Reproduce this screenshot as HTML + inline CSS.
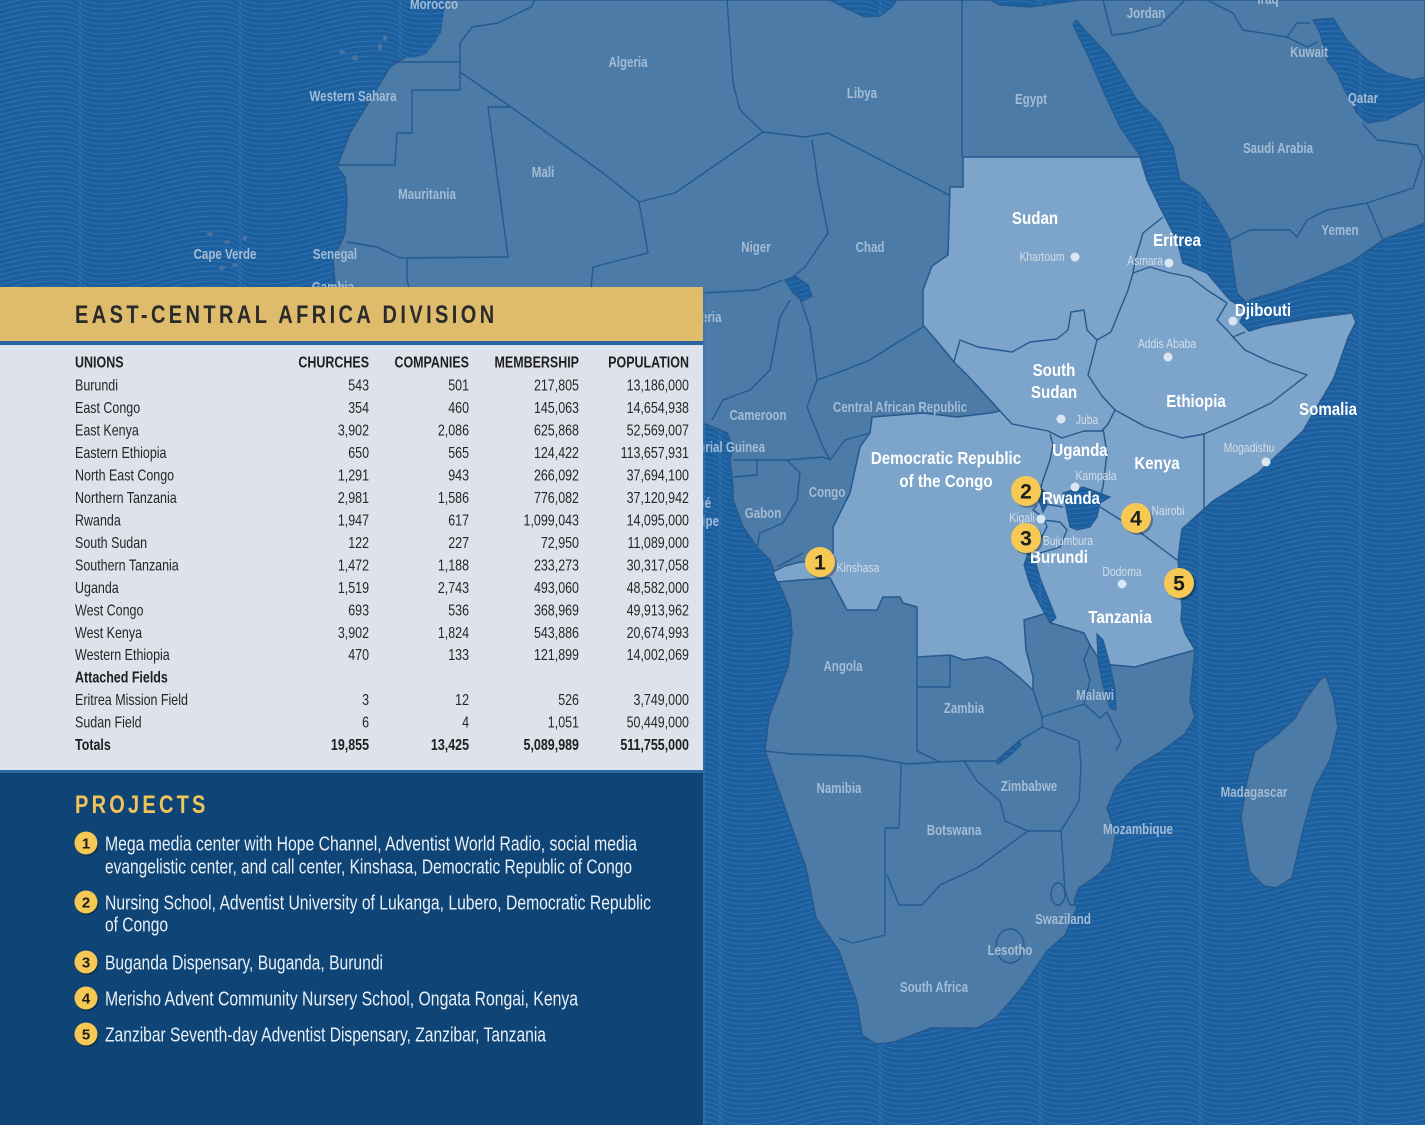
<!DOCTYPE html>
<html><head><meta charset="utf-8"><style>
html,body{margin:0;padding:0;background:#1b5f9f;overflow:hidden;}
svg{display:block;font-family:"Liberation Sans",sans-serif;}
.d{font-size:15px;font-weight:bold;fill:#a5bcd5;}
.w{font-size:18px;font-weight:bold;fill:#ffffff;}
.s{font-size:13px;fill:#d3deea;}
.tr{font-size:16px;fill:#262626;}
.tb{font-size:16px;font-weight:bold;fill:#1e1e1e;}
.pj{font-size:20.5px;fill:#e9eff6;}
.mk{font-size:21px;font-weight:bold;fill:#1d1d1d;}
.mks{font-size:15px;font-weight:bold;fill:#1d1d1d;}
</style></head><body>
<svg width="1425" height="1125" viewBox="0 0 1425 1125" xmlns="http://www.w3.org/2000/svg">
<defs>
<pattern id="oc" width="160" height="40" patternUnits="userSpaceOnUse">
<rect width="160" height="40" fill="#1b5f9f"/>
<g fill="none" stroke="#3a79b7" stroke-width="0.9" opacity="0.7">
<path d="M0 -10 C40 -22 80 -22 80 -10 S120 2 160 -10"/>
<path d="M0 -5 C40 -17 80 -17 80 -5 S120 7 160 -5"/>
<path d="M0 0 C40 -12 80 -12 80 0 S120 12 160 0"/>
<path d="M0 5 C40 -7 80 -7 80 5 S120 17 160 5"/>
<path d="M0 10 C40 -2 80 -2 80 10 S120 22 160 10"/>
<path d="M0 15 C40 3 80 3 80 15 S120 27 160 15"/>
<path d="M0 20 C40 8 80 8 80 20 S120 32 160 20"/>
<path d="M0 25 C40 13 80 13 80 25 S120 37 160 25"/>
<path d="M0 30 C40 18 80 18 80 30 S120 42 160 30"/>
<path d="M0 35 C40 23 80 23 80 35 S120 47 160 35"/>
<path d="M0 40 C40 28 80 28 80 40 S120 52 160 40"/>
<path d="M0 45 C40 33 80 33 80 45 S120 57 160 45"/>
<path d="M0 50 C40 38 80 38 80 50 S120 62 160 50"/>
</g>
</pattern>
</defs>

<!-- ocean -->
<rect x="0" y="0" width="1425" height="1125" fill="url(#oc)"/>

<!-- land -->
<path fill="#4b7ba6" stroke="#25598f" stroke-width="1.5" stroke-linejoin="round" d="M445,0 L1425,0 L1425,223 L1383,240 L1350,263 L1317,277 L1283,290 L1250,300 L1244,306 L1244,314 L1240,322 L1249,331 L1265,326 L1283,323 L1313,318 L1352,313 L1356,322 L1348,338 L1334,378 L1303,431 L1258,473 L1213,501 L1182,529 L1178,560 L1182,606 L1181,620 L1185,633 L1195,650 L1190,700 L1195,717 L1185,734 L1162,751 L1135,767 L1116,787 L1107,808 L1116,834 L1111,861 L1098,875 L1079,888 L1074,901 L1077,908 L1065,935 L1047,951 L1024,985 L996,1018 L977,1028 L931,1028 L894,1042 L876,1044 L862,1035 L857,1002 L839,951 L816,918 L806,868 L792,828 L779,791 L765,751 L769,717 L788,667 L792,633 L790,610 L783,593 L777,580 L770,560 L757,547 L743,527 L733,500 L733,487 L730,460 L733,447 L727,433 L703,423 L650,420 L560,425 L480,400 L420,370 L380,330 L345,300 L335,283 L333,260 L345,233 L347,200 L345,177 L337,167 L350,133 L370,100 L390,67 L417,50 L440,33 Z"/>
<!-- Madagascar -->
<path fill="#4b7ba6" stroke="#25598f" stroke-width="1.5" d="M1320,680 L1326,676 L1334,700 L1338,727 L1330,760 L1315,787 L1303,830 L1292,878 L1276,888 L1264,886 L1250,872 L1246,850 L1241,818 L1247,780 L1255,751 L1278,734 L1295,718 L1305,700 Z"/>
<!-- islands -->
<g fill="#4a74a0">
<ellipse cx="210" cy="234" rx="3" ry="2"/><ellipse cx="227" cy="242" rx="3" ry="2"/><ellipse cx="245" cy="238" rx="2" ry="3"/><ellipse cx="222" cy="268" rx="3" ry="2"/><ellipse cx="235" cy="265" rx="3" ry="2"/>
<ellipse cx="342" cy="52" rx="3" ry="2"/><ellipse cx="355" cy="58" rx="3" ry="3"/><ellipse cx="380" cy="47" rx="2" ry="4"/><ellipse cx="385" cy="38" rx="2" ry="3"/>
</g>

<!-- highlight ECD -->
<path fill="#7da4ca" stroke="#25598f" stroke-width="1.5" stroke-linejoin="round" d="M963,157 L1140,157 L1147,180 L1160,207 L1177,240 L1183,263 L1207,273 L1230,300 L1244,306 L1244,314 L1240,322 L1249,331 L1265,326 L1283,323 L1313,318 L1352,313 L1356,322 L1348,338 L1334,378 L1303,431 L1258,473 L1213,501 L1182,529 L1178,560 L1182,606 L1181,620 L1185,633 L1195,650 L1162,659 L1135,667 L1102,664 L1090,645 L1084,633 L1051,623 L1047,613 L1024,620 L1026,650 L1033,677 L1033,690 L1019,677 L1000,662 L987,657 L964,660 L950,655 L917,657 L917,607 L903,603 L900,597 L883,597 L877,610 L847,610 L830,578 L800,580 L777,582 L773,572 L785,566 L800,562 L820,562 L833,553 L833,527 L850,493 L860,447 L870,433 L872,417 L923,413 L957,417 L990,413 L1000,411 L990,400 L970,378 L954,362 L941,346 L923,325 L923,290 L932,266 L948,255 L950,187 L963,187 Z"/>

<!-- seas & lakes -->
<g fill="url(#oc)" stroke="#25598f" stroke-width="1.2">
<path d="M1073,25 L1090,60 L1105,95 L1120,127 L1143,160 L1147,180 L1160,207 L1177,240 L1183,263 L1207,273 L1230,300 L1242,308 L1246,302 L1237,293 L1233,267 L1230,240 L1217,217 L1200,193 L1180,180 L1173,147 L1160,123 L1137,100 L1110,57 L1085,30 L1076,20 Z"/>
<path d="M1313,20 L1333,18 L1347,40 L1367,60 L1387,73 L1413,80 L1425,77 L1425,100 L1413,107 L1387,120 L1367,123 L1357,113 L1350,100 L1343,87 L1337,73 L1327,60 L1320,33 Z"/>
<path d="M826,-2 L845,8 L865,17 L880,16 L893,6 L898,-2 Z"/>
<path d="M986,-2 L1000,5 L1030,7 L1060,3 L1094,-2 Z"/>
<path d="M400,-2 L445,-2 L443,20 L437,40 L425,55 L410,58 L400,57 Z" stroke="none"/>
<path d="M785,280 L795,276 L808,285 L812,296 L803,301 L793,293 Z"/>
<path d="M1063,493 L1083,487 L1097,492 L1110,497 L1100,503 L1097,517 L1090,527 L1077,530 L1070,527 L1067,513 Z"/>
<path d="M1028,553 L1034,556 L1040,578 L1048,598 L1056,618 L1050,623 L1040,605 L1030,585 L1024,565 Z"/>
<path d="M1097,634 L1103,640 L1110,665 L1115,690 L1116,710 L1110,708 L1103,685 L1098,660 Z"/>
<path d="M1040,488 L1045,492 L1047,505 L1043,512 L1039,500 Z"/>
<path d="M996,761 L1008,752 L1019,741 L1021,745 L1008,757 L998,764 Z"/>
</g>

<!-- borders -->
<g fill="none" stroke="#25598f" stroke-width="1.4" stroke-linejoin="round">
<path d="M393,62 L460,62 L460,43 L472,27 L498,23 L531,7 L535,0"/>
<path d="M337,165 L395,165 L397,133 L412,133 L412,90 L460,90 L460,62"/>
<path d="M460,72 L511,107 L603,173 L639,202 L675,193 L763,132 L805,137 L828,133"/>
<path d="M511,107 L488,107 L508,257 L400,258 L377,247 L347,242"/>
<path d="M407,258 L407,280 L410,292"/>
<path d="M727,0 L733,83 L740,110 L763,132"/>
<path d="M962,0 L962,157"/>
<path d="M828,133 L949,195"/>
<path d="M639,202 L648,253 L593,267 L590,300"/>
<path d="M812,140 L818,183 L828,233 L805,267 L786,283"/>
<path d="M703,293 L757,290 L783,280"/>
<path d="M790,300 L780,317 L770,370 L750,390 L723,400 L712,420"/>
<path d="M797,290 L810,327 L817,380"/>
<path d="M817,380 L837,373 L870,360 L890,347 L923,327"/>
<path d="M817,380 L807,407 L823,447 L830,460"/>
<path d="M733,460 L787,460 L823,457 L830,460 L845,440 L870,433"/>
<path d="M733,477 L757,475 L757,460"/>
<path d="M787,460 L800,473 L797,500 L783,523 L760,533 L757,547"/>
<path d="M777,567 L790,560 L803,553"/>
<path d="M917,657 L917,687 L950,687 L950,655"/>
<path d="M917,687 L917,751 L940,762"/>
<path d="M765,751 L792,754 L862,756 L908,764 L940,762 L964,761"/>
<path d="M964,761 L996,761 L1019,741 L1042,727 L1042,717 L1084,704"/>
<path d="M1033,690 L1042,717"/>
<path d="M1084,704 L1090,680 L1084,660 L1090,645"/>
<path d="M1084,704 L1100,718 L1107,712 L1121,741 L1116,751"/>
<path d="M901,764 L901,771 L899,828 L885,828 L885,935 L853,943 L839,938"/>
<path d="M964,761 L977,781 L1000,801 L1005,821 L1028,831"/>
<path d="M1028,831 L977,868 L940,885 L922,905 L899,905 L887,875"/>
<path d="M1042,727 L1079,741 L1081,767 L1079,801 L1061,831 L1028,831"/>
<path d="M1061,831 L1065,891 L1070,905 L1079,905"/>
<ellipse cx="1058" cy="894" rx="7" ry="11"/>
<ellipse cx="1010" cy="946" rx="14" ry="17"/>
<path d="M1207,0 L1233,13 L1243,30 L1287,37 L1297,23 L1310,23"/>
<path d="M1287,37 L1307,47 L1318,42"/>
<path d="M1103,0 L1112,35 L1130,33 L1160,25 L1185,0"/>
<path d="M1230,240 L1250,230 L1290,230 L1297,237 L1307,220 L1327,210 L1367,203 L1413,188 L1423,157 L1417,145 L1377,140 L1362,123"/>
<path d="M1367,203 L1383,240"/>
<!-- ECD internal -->
<path d="M954,362 L960,340 L978,347 L1012,352 L1030,342 L1057,339 L1068,330 L1071,312 L1084,310 L1087,330 L1097,340"/>
<path d="M1097,340 L1111,332 L1117,317 L1128,290 L1133,273"/>
<path d="M1163,217 L1143,233 L1135,260 L1133,273"/>
<path d="M1133,273 L1150,267 L1170,273 L1190,277 L1207,290 L1227,303"/>
<path d="M1227,303 L1217,320 L1227,330 L1233,337 L1245,332"/>
<path d="M1097,340 L1092,360 L1088,375 L1102,396 L1115,410"/>
<path d="M1115,410 L1146,427 L1182,438 L1204,434 L1236,420 L1271,403 L1307,375 L1270,362 L1245,350 L1233,337"/>
<path d="M1115,410 L1108,424 L1102,431 L1084,431 L1062,438 L1048,431 L1012,424 L1000,411"/>
<path d="M1050,434 L1053,445 L1050,460 L1043,480 L1039,494"/>
<path d="M1103,428 L1107,453 L1103,487 L1100,497"/>
<path d="M1100,507 L1137,530 L1177,560"/>
<path d="M1204,434 L1204,510 L1195,518"/>
<path d="M1040,503 L1063,507"/>
<path d="M1037,505 L1033,510 L1043,517 L1047,527 L1040,540 L1030,553"/>
<path d="M1043,520 L1060,522 L1067,530 L1060,547 L1040,553"/>
</g>

<!-- dark labels -->
<g class="d" text-anchor="middle">
<text transform="translate(434,9) scale(0.77,1)">Morocco</text>
<text transform="translate(628,67) scale(0.77,1)">Algeria</text>
<text transform="translate(862,98) scale(0.77,1)">Libya</text>
<text transform="translate(1031,104) scale(0.77,1)">Egypt</text>
<text transform="translate(1146,18) scale(0.77,1)">Jordan</text>
<text transform="translate(1268,4) scale(0.77,1)">Iraq</text>
<text transform="translate(1309,57) scale(0.77,1)">Kuwait</text>
<text transform="translate(1363,103) scale(0.77,1)">Qatar</text>
<text transform="translate(1278,153) scale(0.77,1)">Saudi Arabia</text>
<text transform="translate(1340,235) scale(0.77,1)">Yemen</text>
<text transform="translate(353,101) scale(0.77,1)">Western Sahara</text>
<text transform="translate(543,177) scale(0.77,1)">Mali</text>
<text transform="translate(427,199) scale(0.77,1)">Mauritania</text>
<text transform="translate(225,259) scale(0.77,1)">Cape Verde</text>
<text transform="translate(335,259) scale(0.77,1)">Senegal</text>
<text transform="translate(333,292) scale(0.77,1)">Gambia</text>
<text transform="translate(756,252) scale(0.77,1)">Niger</text>
<text transform="translate(870,252) scale(0.77,1)">Chad</text>
<text transform="translate(702,322) scale(0.77,1)">Nigeria</text>
<text transform="translate(758,420) scale(0.77,1)">Cameroon</text>
<text transform="translate(900,412) scale(0.77,1)">Central African Republic</text>
<text transform="translate(827,497) scale(0.77,1)">Congo</text>
<text transform="translate(763,518) scale(0.77,1)">Gabon</text>
<text transform="translate(843,671) scale(0.77,1)">Angola</text>
<text transform="translate(964,713) scale(0.77,1)">Zambia</text>
<text transform="translate(1095,700) scale(0.77,1)">Malawi</text>
<text transform="translate(839,793) scale(0.77,1)">Namibia</text>
<text transform="translate(1029,791) scale(0.77,1)">Zimbabwe</text>
<text transform="translate(954,835) scale(0.77,1)">Botswana</text>
<text transform="translate(1138,834) scale(0.77,1)">Mozambique</text>
<text transform="translate(1254,797) scale(0.77,1)">Madagascar</text>
<text transform="translate(1063,924) scale(0.77,1)">Swaziland</text>
<text transform="translate(1010,955) scale(0.77,1)">Lesotho</text>
<text transform="translate(934,992) scale(0.77,1)">South Africa</text>
</g>
<g class="d" text-anchor="end">
<text transform="translate(765,452) scale(0.77,1)">Equatorial Guinea</text>
<text transform="translate(711,508) scale(0.77,1)">São Tomé</text>
<text transform="translate(719,526) scale(0.77,1)">and Príncipe</text>
</g>

<!-- white labels -->
<g class="w" text-anchor="middle">
<text transform="translate(1035,224) scale(0.84,1)">Sudan</text>
<text transform="translate(1177,246) scale(0.84,1)">Eritrea</text>
<text transform="translate(1263,316) scale(0.84,1)">Djibouti</text>
<text transform="translate(1054,376) scale(0.84,1)">South</text>
<text transform="translate(1054,398) scale(0.84,1)">Sudan</text>
<text transform="translate(1196,407) scale(0.84,1)">Ethiopia</text>
<text transform="translate(1328,415) scale(0.84,1)">Somalia</text>
<text transform="translate(946,464) scale(0.84,1)">Democratic Republic</text>
<text transform="translate(946,487) scale(0.84,1)">of the Congo</text>
<text transform="translate(1080,456) scale(0.84,1)">Uganda</text>
<text transform="translate(1157,469) scale(0.84,1)">Kenya</text>
<text transform="translate(1071,504) scale(0.84,1)">Rwanda</text>
<text transform="translate(1059,563) scale(0.84,1)">Burundi</text>
<text transform="translate(1120,623) scale(0.84,1)">Tanzania</text>
</g>

<!-- capitals -->
<g fill="#dce6f1">
<circle cx="1075" cy="257" r="4.5"/><circle cx="1169" cy="263" r="4.5"/><circle cx="1168" cy="357" r="4.5"/>
<circle cx="1061" cy="419" r="4.5"/><circle cx="1075" cy="487" r="4.5"/><circle cx="1041" cy="519" r="4.5"/>
<circle cx="1122" cy="584" r="4.5"/><circle cx="1266" cy="462" r="4.5"/><circle cx="1233" cy="321" r="4.5"/>
</g>
<g class="s" text-anchor="middle">
<text transform="translate(1042,261) scale(0.8,1)">Khartoum</text>
<text transform="translate(1145,265) scale(0.8,1)">Asmara</text>
<text transform="translate(1167,348) scale(0.8,1)">Addis Ababa</text>
<text transform="translate(1087,424) scale(0.8,1)">Juba</text>
<text transform="translate(1096,480) scale(0.8,1)">Kampala</text>
<text transform="translate(1168,515) scale(0.8,1)">Nairobi</text>
<text transform="translate(1022,522) scale(0.8,1)">Kigali</text>
<text transform="translate(1068,545) scale(0.8,1)">Bujumbura</text>
<text transform="translate(1122,576) scale(0.8,1)">Dodoma</text>
<text transform="translate(1249,452) scale(0.8,1)">Mogadishu</text>
<text transform="translate(858,572) scale(0.8,1)">Kinshasa</text>
</g>

<!-- map markers -->
<g>
<circle cx="822" cy="564" r="15" fill="#000" opacity="0.3"/><circle cx="820" cy="562" r="15" fill="#f6c854"/>
<circle cx="1028" cy="493" r="15" fill="#000" opacity="0.3"/><circle cx="1026" cy="491" r="15" fill="#f6c854"/>
<circle cx="1028" cy="540" r="15" fill="#000" opacity="0.3"/><circle cx="1026" cy="538" r="15" fill="#f6c854"/>
<circle cx="1138" cy="520" r="15" fill="#000" opacity="0.3"/><circle cx="1136" cy="518" r="15" fill="#f6c854"/>
<circle cx="1181" cy="585" r="15" fill="#000" opacity="0.3"/><circle cx="1179" cy="583" r="15" fill="#f6c854"/>
</g>
<g class="mk" text-anchor="middle">
<text x="820" y="569.5">1</text>
<text x="1026" y="498.5">2</text>
<text x="1026" y="545.5">3</text>
<text x="1136" y="525.5">4</text>
<text x="1179" y="590.5">5</text>
</g>

<!-- left panels -->
<rect x="0" y="287" width="703" height="54" fill="#dfbc6b"/>
<rect x="0" y="341" width="703" height="4" fill="#2a64a0"/>
<rect x="0" y="345" width="703" height="425" fill="#dee2eb"/>
<rect x="0" y="770" width="703" height="3" fill="#2f69a3"/>
<rect x="0" y="773" width="703" height="352" fill="#0f4576"/>
<rect x="703" y="287" width="2" height="838" fill="#3a74ad" opacity="0.6"/>

<g transform="translate(75,323) scale(0.8,1)">
<text x="0" y="0" font-size="25" font-weight="bold" fill="#2a2a2a" textLength="524" lengthAdjust="spacing">EAST-CENTRAL AFRICA DIVISION</text>
</g>

<!-- table -->
<g transform="scale(0.78,1)">
<g class="tb">
<text x="96.2" y="367.4">UNIONS</text>
</g>
<g class="tb" text-anchor="end">
<text x="473.1" y="367.4">CHURCHES</text>
<text x="601.3" y="367.4">COMPANIES</text>
<text x="742.3" y="367.4">MEMBERSHIP</text>
<text x="883.3" y="367.4">POPULATION</text>
</g>
<g class="tr">
<text x="96.2" y="390.7">Burundi</text>
<text x="96.2" y="413.2">East Congo</text>
<text x="96.2" y="435.6">East Kenya</text>
<text x="96.2" y="458.1">Eastern Ethiopia</text>
<text x="96.2" y="480.5">North East Congo</text>
<text x="96.2" y="503.0">Northern Tanzania</text>
<text x="96.2" y="525.5">Rwanda</text>
<text x="96.2" y="547.9">South Sudan</text>
<text x="96.2" y="570.4">Southern Tanzania</text>
<text x="96.2" y="592.8">Uganda</text>
<text x="96.2" y="615.3">West Congo</text>
<text x="96.2" y="637.8">West Kenya</text>
<text x="96.2" y="660.2">Western Ethiopia</text>
<text x="96.2" y="705.1">Eritrea Mission Field</text>
<text x="96.2" y="727.6">Sudan Field</text>
</g>
<g class="tb">
<text x="96.2" y="682.7">Attached Fields</text>
<text x="96.2" y="750.1">Totals</text>
</g>
<g class="tr" text-anchor="end">
<text x="473.1" y="390.7">543</text><text x="601.3" y="390.7">501</text><text x="742.3" y="390.7">217,805</text><text x="883.3" y="390.7">13,186,000</text>
<text x="473.1" y="413.2">354</text><text x="601.3" y="413.2">460</text><text x="742.3" y="413.2">145,063</text><text x="883.3" y="413.2">14,654,938</text>
<text x="473.1" y="435.6">3,902</text><text x="601.3" y="435.6">2,086</text><text x="742.3" y="435.6">625,868</text><text x="883.3" y="435.6">52,569,007</text>
<text x="473.1" y="458.1">650</text><text x="601.3" y="458.1">565</text><text x="742.3" y="458.1">124,422</text><text x="883.3" y="458.1">113,657,931</text>
<text x="473.1" y="480.5">1,291</text><text x="601.3" y="480.5">943</text><text x="742.3" y="480.5">266,092</text><text x="883.3" y="480.5">37,694,100</text>
<text x="473.1" y="503.0">2,981</text><text x="601.3" y="503.0">1,586</text><text x="742.3" y="503.0">776,082</text><text x="883.3" y="503.0">37,120,942</text>
<text x="473.1" y="525.5">1,947</text><text x="601.3" y="525.5">617</text><text x="742.3" y="525.5">1,099,043</text><text x="883.3" y="525.5">14,095,000</text>
<text x="473.1" y="547.9">122</text><text x="601.3" y="547.9">227</text><text x="742.3" y="547.9">72,950</text><text x="883.3" y="547.9">11,089,000</text>
<text x="473.1" y="570.4">1,472</text><text x="601.3" y="570.4">1,188</text><text x="742.3" y="570.4">233,273</text><text x="883.3" y="570.4">30,317,058</text>
<text x="473.1" y="592.8">1,519</text><text x="601.3" y="592.8">2,743</text><text x="742.3" y="592.8">493,060</text><text x="883.3" y="592.8">48,582,000</text>
<text x="473.1" y="615.3">693</text><text x="601.3" y="615.3">536</text><text x="742.3" y="615.3">368,969</text><text x="883.3" y="615.3">49,913,962</text>
<text x="473.1" y="637.8">3,902</text><text x="601.3" y="637.8">1,824</text><text x="742.3" y="637.8">543,886</text><text x="883.3" y="637.8">20,674,993</text>
<text x="473.1" y="660.2">470</text><text x="601.3" y="660.2">133</text><text x="742.3" y="660.2">121,899</text><text x="883.3" y="660.2">14,002,069</text>
<text x="473.1" y="705.1">3</text><text x="601.3" y="705.1">12</text><text x="742.3" y="705.1">526</text><text x="883.3" y="705.1">3,749,000</text>
<text x="473.1" y="727.6">6</text><text x="601.3" y="727.6">4</text><text x="742.3" y="727.6">1,051</text><text x="883.3" y="727.6">50,449,000</text>
</g>
<g class="tb" text-anchor="end">
<text x="473.1" y="750.1">19,855</text><text x="601.3" y="750.1">13,425</text><text x="742.3" y="750.1">5,089,989</text><text x="883.3" y="750.1">511,755,000</text>
</g>
</g>

<!-- projects -->
<g transform="translate(75,813) scale(0.8,1)">
<text x="0" y="0" font-size="25" font-weight="bold" fill="#f1c45a" textLength="163" lengthAdjust="spacing">PROJECTS</text>
</g>
<g>
<circle cx="87" cy="844.5" r="11.5" fill="#000" opacity="0.35"/><circle cx="86" cy="843" r="11.5" fill="#f6c854"/>
<circle cx="87" cy="903.5" r="11.5" fill="#000" opacity="0.35"/><circle cx="86" cy="902" r="11.5" fill="#f6c854"/>
<circle cx="87" cy="963.5" r="11.5" fill="#000" opacity="0.35"/><circle cx="86" cy="962" r="11.5" fill="#f6c854"/>
<circle cx="87" cy="999.5" r="11.5" fill="#000" opacity="0.35"/><circle cx="86" cy="998" r="11.5" fill="#f6c854"/>
<circle cx="87" cy="1035.5" r="11.5" fill="#000" opacity="0.35"/><circle cx="86" cy="1034" r="11.5" fill="#f6c854"/>
</g>
<g class="mks" text-anchor="middle">
<text x="86" y="848.5">1</text>
<text x="86" y="907.5">2</text>
<text x="86" y="967.5">3</text>
<text x="86" y="1003.5">4</text>
<text x="86" y="1039.5">5</text>
</g>
<g class="pj">
<text x="105" y="850.5" textLength="532" lengthAdjust="spacingAndGlyphs">Mega media center with Hope Channel, Adventist World Radio, social media</text>
<text x="105" y="873.3" textLength="527" lengthAdjust="spacingAndGlyphs">evangelistic center, and call center, Kinshasa, Democratic Republic of Congo</text>
<text x="105" y="909.5" textLength="546" lengthAdjust="spacingAndGlyphs">Nursing School, Adventist University of Lukanga, Lubero, Democratic Republic</text>
<text x="105" y="931.7" textLength="63" lengthAdjust="spacingAndGlyphs">of Congo</text>
<text x="105" y="969.5" textLength="278" lengthAdjust="spacingAndGlyphs">Buganda Dispensary, Buganda, Burundi</text>
<text x="105" y="1005.5" textLength="473" lengthAdjust="spacingAndGlyphs">Merisho Advent Community Nursery School, Ongata Rongai, Kenya</text>
<text x="105" y="1041.5" textLength="441" lengthAdjust="spacingAndGlyphs">Zanzibar Seventh-day Adventist Dispensary, Zanzibar, Tanzania</text>
</g>
</svg>
</body></html>
